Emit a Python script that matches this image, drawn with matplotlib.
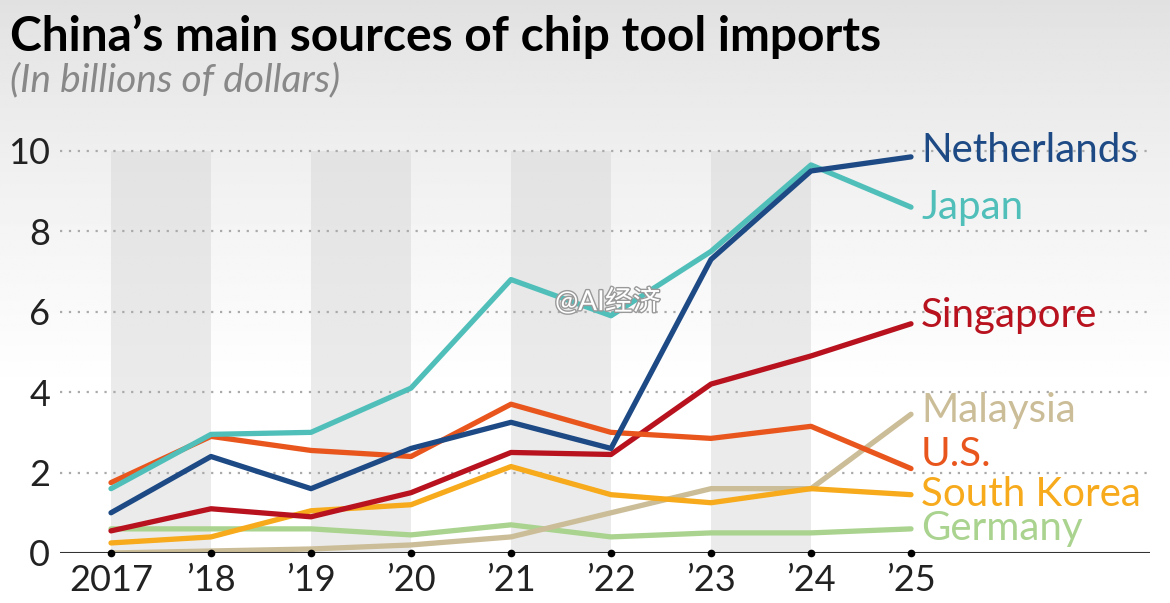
import numpy as np
import matplotlib.pyplot as plt
import matplotlib.patheffects as pe

years = [2017, 2018, 2019, 2020, 2021, 2022, 2023, 2024, 2025]
tick_labels = ["2017", "\u201918", "\u201919", "\u201920", "\u201921", "\u201922", "\u201923", "\u201924", "\u201925"]

netherlands = [1.0, 2.4, 1.6, 2.6, 3.25, 2.6, 7.3, 9.5, 9.85]
japan = [1.6, 2.95, 3.0, 4.1, 6.8, 5.9, 7.5, 9.65, 8.6]
us = [1.75, 2.9, 2.55, 2.4, 3.7, 3.0, 2.85, 3.15, 2.1]
singapore = [0.55, 1.1, 0.9, 1.5, 2.5, 2.45, 4.2, 4.9, 5.7]
south_korea = [0.25, 0.4, 1.05, 1.2, 2.15, 1.45, 1.25, 1.6, 1.45]
germany = [0.6, 0.6, 0.6, 0.45, 0.7, 0.4, 0.5, 0.5, 0.6]
malaysia = [0.0, 0.05, 0.1, 0.2, 0.4, 1.0, 1.6, 1.6, 3.45]

# name, values, colour, label y
series = [
    ("Germany", germany, "#aad38f", 0.6),
    ("Malaysia", malaysia, "#cbbd97", 3.55),
    ("South Korea", south_korea, "#f6aa1c", 1.45),
    ("Singapore", singapore, "#b8121f", 5.9),
    ("U.S.", us, "#e9561d", 2.45),
    ("Japan", japan, "#50bfba", 8.6),
    ("Netherlands", netherlands, "#1d4a85", 10.0),
]

plt.rcParams['font.family'] = ['Lato', 'Noto Sans CJK SC', 'DejaVu Sans']

fig = plt.figure(figsize=(11.7, 6.03), dpi=100)

# soft grey gradient in the background
bg = fig.add_axes([0, 0, 1, 1], zorder=-10)
grad = np.linspace(0, 1, 300)
shade = 0.88 + 0.12 * np.clip(grad / 0.65, 0, 1) ** 0.8
bg.imshow(np.tile(shade[:, None], (1, 10)), cmap='gray', vmin=0, vmax=1,
          aspect='auto', extent=[0, 1, 0, 1], origin='upper')
bg.axis('off')

ax = fig.add_axes([60 / 1170, 50 / 603, 1090 / 1170, 413 / 603])
ax.patch.set_alpha(0)
ax.set_xlim(2016.49, 2027.39)
ax.set_ylim(0, 10.27)

# alternating year bands
for y0 in [2017, 2019, 2021, 2023]:
    ax.fill_between([y0, y0 + 1], 0, 10, color='#d8d8d8', alpha=0.5, lw=0, zorder=0)

for g in [2, 4, 6, 8, 10]:
    ax.axhline(g, color='#aaaaaa', lw=1.6, ls=(0, (1, 3)), zorder=1)

for name, vals, col, ly in series:
    ax.plot(years, vals, color=col, lw=3.8, solid_capstyle='round', solid_joinstyle='round', zorder=3)
    ax.text(2025.1, ly, name, color=col, fontsize=29, va='center', ha='left', zorder=4)

ax.axhline(0, color='#333333', lw=1.5, zorder=5)
ax.plot(years, [0] * len(years), 'o', color='black', ms=4.5, zorder=6, clip_on=False)

for s in ax.spines.values():
    s.set_visible(False)
ax.set_xticks(years)
ax.set_xticklabels(tick_labels, fontsize=26, color='#222222')
ax.set_yticks([0, 2, 4, 6, 8, 10])
ax.set_yticklabels(["0", "2", "4", "6", "8", "10"], fontsize=26, color='#222222')
ax.tick_params(length=0, pad=8)
ax.tick_params(axis='y', pad=7)

fig.text(10 / 1170, 1 - 36 / 603, "China\u2019s main sources of chip tool imports",
         fontsize=34.5, fontweight='bold', color='black', va='center', ha='left')
fig.text(10 / 1170, 1 - 80 / 603, "(In billions of dollars)",
         fontsize=28, fontstyle='italic', color='#888888', va='center', ha='left')

# watermark
fig.text(555 / 1170, 1 - 302 / 603, "@AI经济", fontsize=20, color='white', va='center', ha='left',
         path_effects=[pe.withStroke(linewidth=2, foreground='#999999')], zorder=20)

fig.savefig("out.png", dpi=100)
